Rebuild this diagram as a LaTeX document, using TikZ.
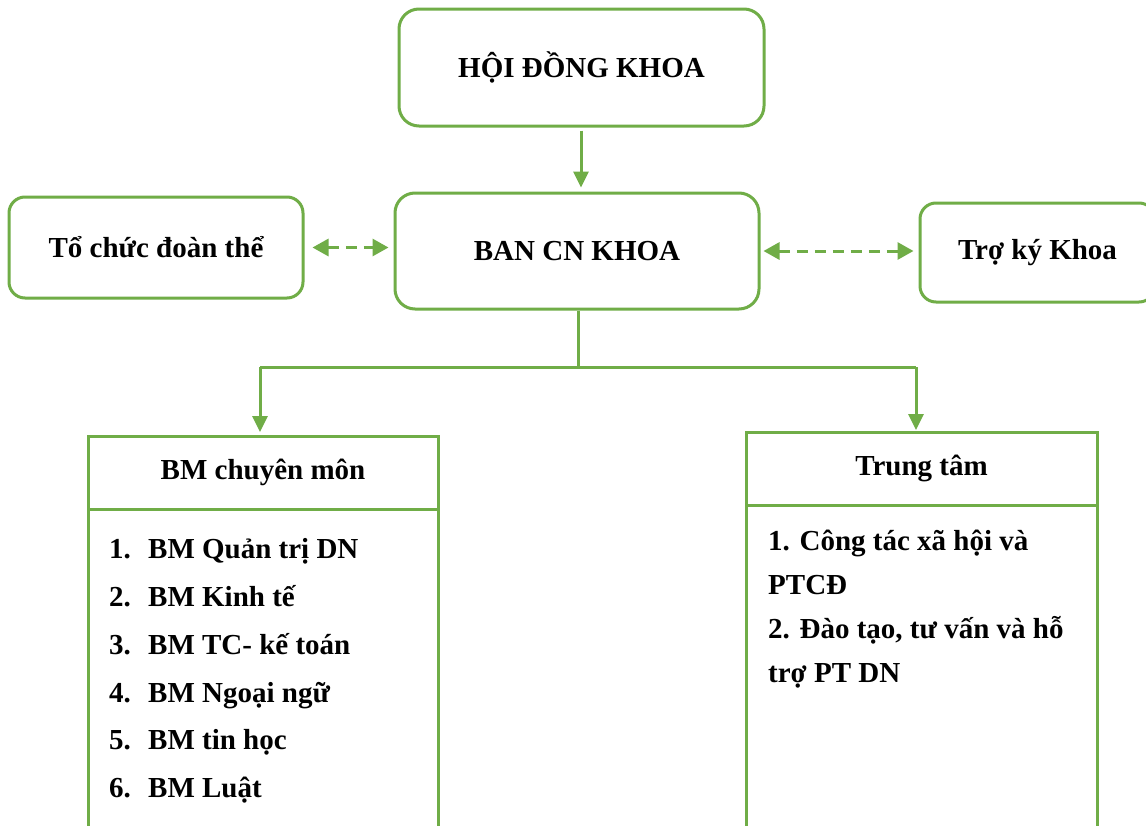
\documentclass[tikz,border=0pt]{standalone}
\usepackage{fontspec}
\setmainfont{Liberation Serif}
\usetikzlibrary{arrows.meta}
\definecolor{grn}{HTML}{70AD47}
\begin{document}
\begin{tikzpicture}[x=1pt,y=-1pt,
  every node/.style={font=\fontsize{29}{35}\selectfont\bfseries, inner sep=0pt},
  rbox/.style={draw=grn, line width=3pt, rounded corners=20pt, fill=white},
  sbox/.style={draw=grn, line width=3pt, outer sep=0pt},
  conn/.style={draw=grn, line width=3pt},
  tip/.style={-{Triangle[length=16pt,width=15pt]}},
  dtip/.style={{Triangle[length=16pt,width=17pt]}-{Triangle[length=16pt,width=17pt]}, dash pattern=on 11pt off 7pt},
  item/.style={anchor=base west},
]
\clip (0,0) rectangle (1146,825);
\fill[white] (0,0) rectangle (1146,825);

% rounded boxes
\node[rbox, minimum width=365pt, minimum height=117pt] (hoi) at (581.5,67.5) {HỘI ĐỒNG KHOA};
\node[rbox, minimum width=364pt, minimum height=116pt] (ban) at (577,251) {BAN CN KHOA};
\node[rbox, minimum width=294pt, minimum height=101pt, rounded corners=16pt] (tochuc) at (156,247.5) {Tổ chức đoàn thể};
\node[rbox, minimum width=235pt, minimum height=99pt, rounded corners=16pt] (tro) at (1037.5,252.5) {Trợ ký Khoa};

% square boxes
\node[sbox, minimum width=350pt, minimum height=73pt] (bmh) at (263,472.5) {BM chuyên môn};
\draw[sbox] (bmh.south west) -- ++(0,350) (bmh.south east) -- ++(0,350);
\node[sbox, minimum width=351pt, minimum height=73pt] (tth) at (921.5,468.5) {Trung tâm};
\draw[sbox] (tth.south west) -- ++(0,350) (tth.south east) -- ++(0,350);

% list items
\node[item] (l1) at (109,558) {\makebox[39pt][l]{1.}BM Quản trị DN};
\node[item] (l2) at (109,606) {\makebox[39pt][l]{2.}BM Kinh tế};
\node[item] (l3) at (109,654) {\makebox[39pt][l]{3.}BM TC- kế toán};
\node[item] (l4) at (109,702) {\makebox[39pt][l]{4.}BM Ngoại ngữ};
\node[item] (l5) at (109,749) {\makebox[39pt][l]{5.}BM tin học};
\node[item] (l6) at (109,797) {\makebox[39pt][l]{6.}BM Luật};

\node[item] (r1) at (768,550) {1. Công tác xã hội và};
\node[item] (r2) at (768,594) {PTCĐ};
\node[item] (r3) at (768,638) {2. Đào tạo, tư vấn và hỗ};
\node[item] (r4) at (768,682) {trợ PT DN};

% connectors
\draw[conn,tip,shorten <=3pt,shorten >=4pt] (hoi.south -| 581,0) -- (ban.north -| 581,0);
\draw[conn,dtip,shorten <=8pt,shorten >=5pt] (tochuc.east) -- (tochuc.east -| ban.west);
\draw[conn,dtip,shorten <=3pt,shorten >=5pt] (ban.east) -- (ban.east -| tro.west);

\coordinate (jm) at (578,367);
\coordinate (jl) at (260,367);
\coordinate (jr) at (916,367);
\draw[conn] (ban.south -| jm) -- (jm);
\draw[conn] (jl) -- (jr);
\draw[conn,tip,shorten >=4pt] (jl) -- (jl |- bmh.north);
\draw[conn,tip,shorten >=2pt] (jr) -- (jr |- tth.north);
\end{tikzpicture}
\end{document}
